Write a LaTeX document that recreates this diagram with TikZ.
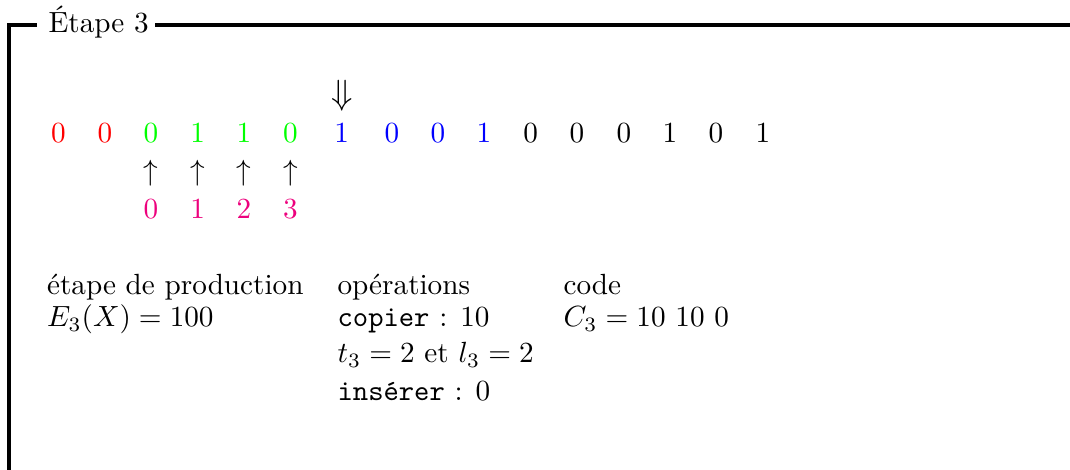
\documentclass[tikz,border=0pt]{standalone}
\usepackage{fontspec}
\definecolor{pinkd}{RGB}{237,1,125}
\begin{document}
\begin{tikzpicture}[x=0.3425pt,y=-0.3425pt,
  txt/.style={inner sep=0pt,anchor=base west},
  dig/.style={inner sep=0pt,anchor=base},
  arr/.style={inner sep=0pt,anchor=south},
  frameline/.style={line width=1.1pt}]
\useasboundingbox (0,0) rectangle (1070,470);
% frame
\coordinate (fbl) at (9,470);
\coordinate (ftl) at (9,25);
\coordinate (fa) at (37,25);
\coordinate (fb) at (155,25);
\coordinate (fr) at (1070,25);
\draw[frameline] (fbl) -- (ftl) -- (fa);
\draw[frameline] (fb) -- (fr);
\node[txt] (title) at (48,33) {Étape 3};
% top row of digits
\foreach \x/\d/\c [count=\i] in {58.3/0/red,105/0/red,151/0/green,197.7/1/green,244/1/green,290.5/0/green,341.7/1/blue,392/0/blue,438/0/blue,484/1/blue,530.7/0/black,577/0/black,624/0/black,670/1/black,716/0/black,763/1/black}
  \node[dig,text=\c] (d\i) at (\x,143) {\d};
\node[arr] (down) at (341.7,112) {\fontsize{13}{15}\selectfont$\Downarrow$};
% up arrows and indices
\foreach \x/\d [count=\i] in {151/0,197.7/1,244/2,290.5/3}{
  \node[arr] (u\i) at (\x,187) {$\uparrow$};
  \node[dig,text=pinkd] (p\i) at (\x,219) {\d};
}
% text blocks
\node[txt] (h1) at (46.5,295) {étape de production};
\node[txt] (h2) at (337,295) {opérations};
\node[txt] (h3) at (563,295) {code};
\node[txt] (e1) at (46.5,327) {$E_3(X)=100$};
\node[txt] (o1) at (337,327) {\texttt{copier} : 10};
\node[txt] (c1) at (563,327) {$C_3=10$ 10 0};
\node[txt] (o2) at (337,363) {$t_3=2$ et $l_3=2$};
\node[txt] (o3) at (337,400) {\texttt{insérer} : 0};
\end{tikzpicture}
\end{document}
